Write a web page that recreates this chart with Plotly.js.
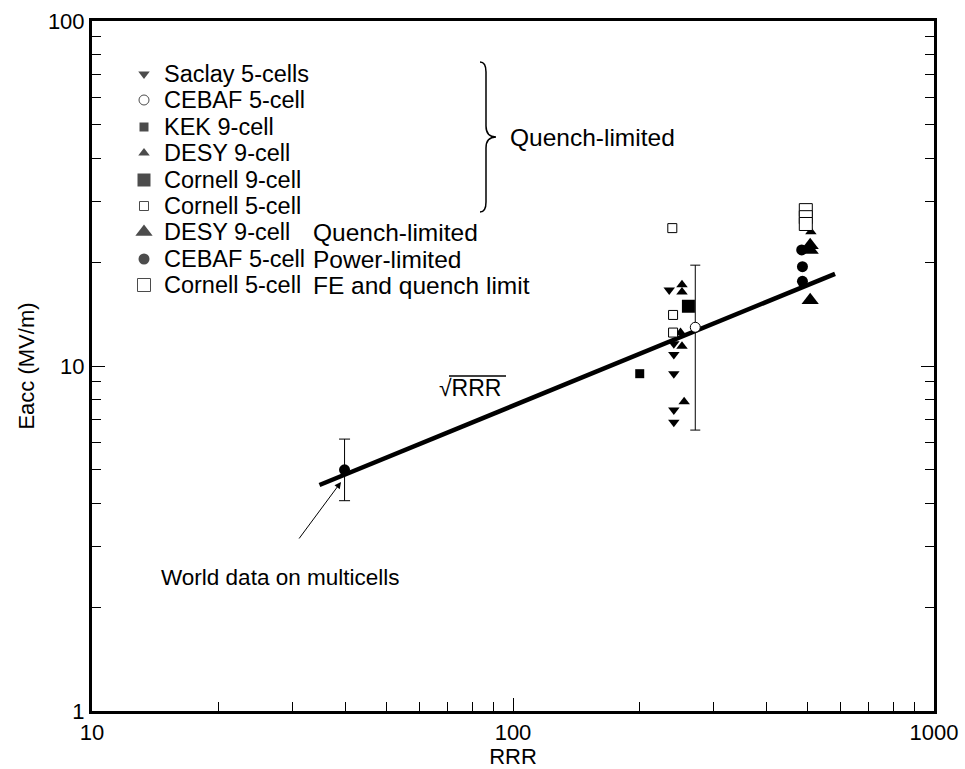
<!DOCTYPE html>
<html><head><meta charset="utf-8">
<script src="https://cdn.plot.ly/plotly-3.0.1.min.js"></script>
<style>html,body{margin:0;padding:0;background:#fff;} #chart{width:965px;height:769px;}</style>
</head><body><div id="chart"></div>
<script>
// ---------------- data ----------------
const saclayX = [235, 241, 241, 241, 241, 241];
const saclayY = [16.6, 11.6, 10.8, 9.5, 7.45, 6.87];
const cebafOpenX = [271];
const cebafOpenY = [12.95];
const cebafErrPlus = [6.65];
const cebafErrMinus = [6.43];
const kekX = [200];
const kekY = [9.5];
const desySmallX = [252, 252, 250, 252, 255, 510];
const desySmallY = [17.2, 16.4, 12.5, 11.4, 7.88, 24.5];
const cornell9X = [261];
const cornell9Y = [14.9];
const cornell5X = [239, 240, 240];
const cornell5Y = [25.1, 14.06, 12.5];
const desyQX = [508, 508, 508];
const desyQY = [22.4, 21.7, 15.5];
const cebafPX = [485, 487, 487];
const cebafPY = [21.7, 19.4, 17.6];
const cornellFEX = [496, 496, 496];
const cornellFEY = [28.3, 27.0, 25.8];
const worldX = [39.8];
const worldY = [5.0];
const worldErrPlus = [1.14];
const worldErrMinus = [0.93];
const fitX = [34.7, 582];
const fitY = [4.52, 18.5];

const legendNames = ['Saclay 5-cells','CEBAF 5-cell','KEK 9-cell','DESY 9-cell','Cornell 9-cell','Cornell 5-cell','DESY 9-cell','CEBAF 5-cell','Cornell 5-cell'];
const legendNotes = ['','','','','','','Quench-limited','Power-limited','FE and quench limit'];
const xTickVals = [10, 100, 1000];
const xTickText = ['10', '100', '1000'];
const yTickVals = [1, 10, 100];
const yTickText = ['1', '10', '100'];
const xMinor = [20,30,40,50,60,70,80,90,200,300,400,500,600,700,800,900];
const yMinor = [2,3,4,5,6,7,8,9,20,30,40,50,60,70,80,90];

// ---------------- styles ----------------
const FONT = '"Liberation Sans", Arial, Helvetica, sans-serif';
const styles = [
  {symbol:'triangle-down', size:10, color:'black', line:{width:0}},
  {symbol:'circle', size:10, color:'white', line:{color:'black', width:1}},
  {symbol:'square', size:9, color:'black', line:{width:0}},
  {symbol:'triangle-up', size:10, color:'black', line:{width:0}},
  {symbol:'square', size:13, color:'black', line:{width:0}},
  {symbol:'square', size:9, color:'white', line:{color:'black', width:1}},
  {symbol:'triangle-up', size:15, color:'black', line:{width:0}},
  {symbol:'circle', size:11, color:'black', line:{width:0}},
  {symbol:'square', size:13, color:'white', line:{color:'black', width:1}}
];

// plot area in pixels (layout helpers)
const PX0 = 92, PX1 = 934, PY0 = 21, PY1 = 711;
const fx = p => (p - PX0) / (PX1 - PX0);
const fy = p => (PY1 - p) / (PY1 - PY0);

const traces = [];
traces.push({x: fitX, y: fitY, mode:'lines', line:{color:'black', width:4.5}, showlegend:false, hoverinfo:'skip'});
const groups = [
  [saclayX, saclayY, 0], [cebafOpenX, cebafOpenY, 1], [kekX, kekY, 2], [desySmallX, desySmallY, 3],
  [cornell9X, cornell9Y, 4], [cornell5X, cornell5Y, 5], [desyQX, desyQY, 6], [cebafPX, cebafPY, 7],
  [cornellFEX, cornellFEY, 8]
];
groups.forEach(g => {
  const s = styles[g[2]];
  const t = {x: g[0], y: g[1], mode:'markers', name: legendNames[g[2]], showlegend:false,
    marker:{symbol:s.symbol, size:s.size, color:s.color, line:s.line}};
  if (g[2] === 1) {
    t.error_y = {type:'data', symmetric:false, array:cebafErrPlus, arrayminus:cebafErrMinus, color:'black', thickness:1, width:5};
  }
  traces.push(t);
});
traces.push({x: worldX, y: worldY, mode:'markers', showlegend:false,
  marker:{symbol:'circle', size:11, color:'black'},
  error_y:{type:'data', symmetric:false, array:worldErrPlus, arrayminus:worldErrMinus, color:'black', thickness:1, width:5.5}});

// legend keys (drawn on an overlay paper-like axis)
const rowY = [74, 100, 127, 153, 180, 206, 232, 259, 285];
traces.push({x: rowY.map(() => fx(144)), y: rowY.map(r => fy(r)), xaxis:'x2', yaxis:'y2', mode:'markers', showlegend:false, hoverinfo:'skip',
  marker:{symbol: styles.map(s => s.symbol), size: styles.map(s => s.size), color: styles.map(s => s.color),
    line:{color:'black', width: styles.map(s => s.line.width || 0)}}});

const annotations = [];
rowY.forEach((r, i) => {
  annotations.push({xref:'paper', yref:'paper', x: fx(162), y: fy(r), xanchor:'left', yanchor:'middle', showarrow:false,
    text: legendNames[i], font:{family:FONT, size:23.5, color:'black'}});
  if (legendNotes[i]) annotations.push({xref:'paper', yref:'paper', x: fx(311), y: fy(r), xanchor:'left', yanchor:'middle', showarrow:false,
    text: legendNotes[i], font:{family:FONT, size:24.5, color:'black'}});
});
annotations.push({xref:'paper', yref:'paper', x: fx(508), y: fy(137), xanchor:'left', yanchor:'middle', showarrow:false,
  text:'Quench-limited', font:{family:FONT, size:24.5, color:'black'}});
annotations.push({xref:'paper', yref:'paper', x: fx(437), y: fy(388), xanchor:'left', yanchor:'middle', showarrow:false,
  text:'\u221ARRR', font:{family:FONT, size:23, color:'black'}});
annotations.push({xref:'paper', yref:'paper', x: fx(159), y: fy(577), xanchor:'left', yanchor:'middle', showarrow:false,
  text:'World data on multicells', font:{family:FONT, size:22.5, color:'black'}});
annotations.push({xref:'paper', yref:'paper', x: fx(341), y: fy(482), showarrow:true, text:'',
  ax:-43, ay:58, arrowhead:2, arrowsize:1.3, arrowwidth:1, arrowcolor:'black', standoff:0});

// brace path in paper coords
const P = (x, y) => fx(x).toFixed(5) + ',' + fy(y).toFixed(5);
const bracePath = 'M' + P(480,62) + ' Q' + P(486,62) + ' ' + P(486,72) + ' L' + P(486,126) +
  ' Q' + P(486,137) + ' ' + P(496,137) + ' Q' + P(486,137) + ' ' + P(486,148) + ' L' + P(486,202) +
  ' Q' + P(486,212) + ' ' + P(480,212);
const shapes = [
  {type:'path', xref:'paper', yref:'paper', path: bracePath, line:{color:'black', width:1.5}},
  {type:'line', xref:'paper', yref:'paper', x0: fx(449), x1: fx(506), y0: fy(376), y1: fy(376), line:{color:'black', width:1.5}}
];

const axisCommon = {
  type:'log', showline:true, linewidth:3, linecolor:'black', showgrid:false, zeroline:false,
  ticks:'inside', ticklen:13, tickwidth:1, tickcolor:'black', tickmode:'array',
  tickfont:{family:FONT, size:22, color:'black'},
  minor:{tickmode:'array', ticks:'inside', ticklen:9, tickwidth:1, tickcolor:'black', showgrid:false}
};
const layout = {
  width:965, height:769, paper_bgcolor:'white', plot_bgcolor:'white',
  margin:{l:92, r:31, t:21, b:58},
  showlegend:false,
  xaxis: Object.assign({}, axisCommon, {range:[1,3], mirror:true, tickvals:xTickVals, ticktext:xTickText,
    minor:Object.assign({}, axisCommon.minor, {tickvals:xMinor}),
    title:{text:'RRR', font:{family:FONT, size:22, color:'black'}, standoff:6}}),
  yaxis: Object.assign({}, axisCommon, {range:[0,2], mirror:'ticks', tickvals:yTickVals, ticktext:yTickText,
    minor:Object.assign({}, axisCommon.minor, {tickvals:yMinor}),
    title:{text:'Eacc (MV/m)', font:{family:FONT, size:22, color:'black'}, standoff:8}}),
  xaxis2:{overlaying:'x', range:[0,1], visible:false, fixedrange:true},
  yaxis2:{overlaying:'y', range:[0,1], visible:false, fixedrange:true},
  annotations: annotations,
  shapes: shapes
};
Plotly.newPlot('chart', traces, layout, {displayModeBar:false, staticPlot:true});
</script>
</body></html>
